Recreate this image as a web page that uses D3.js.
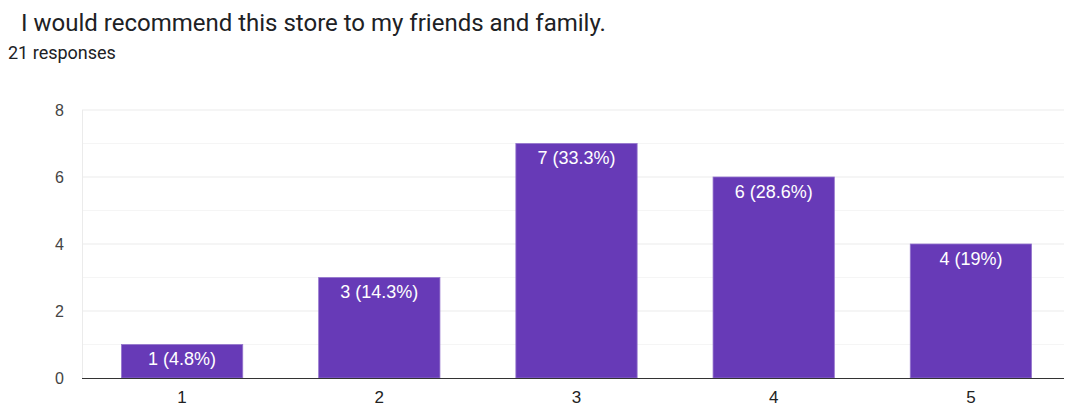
<!DOCTYPE html>
<html><head><meta charset="utf-8">
<script src="https://cdn.jsdelivr.net/npm/d3@7"></script>
<style>body{margin:0;background:#fff;font-family:Roboto,Arial,sans-serif}</style>
</head><body><svg id="c" width="1071" height="408"></svg>
<script>
const categories = ["1","2","3","4","5"];
const counts = [1,3,7,6,4];
const labels = ["1 (4.8%)","3 (14.3%)","7 (33.3%)","6 (28.6%)","4 (19%)"];
const yTicks = [0,2,4,6,8];
const title = "I would recommend this store to my friends and family.";
const subtitle = "21 responses";

const chartFont = "'Liberation Sans',Arial,sans-serif";
const svg = d3.select("#c");
const x = d3.scaleBand().domain(categories).range([84,1069]).paddingInner(0.385).paddingOuter(0.19);
const y = d3.scaleLinear().domain([0,8]).range([378,110]);

svg.append("text").attr("x",21).attr("y",31).attr("font-size",24).attr("fill","#202124").text(title);
svg.append("text").attr("x",8).attr("y",59).attr("font-size",18).attr("fill","#202124").text(subtitle);

// grid
const g = svg.append("g");
d3.range(1,9).forEach(v=>{
  g.append("line").attr("x1",82).attr("x2",1064).attr("y1",y(v)).attr("y2",y(v))
   .attr("stroke", v%2===0 ? "#ebebeb" : "#f5f5f5").attr("stroke-width",1);
});
g.append("line").attr("x1",82.5).attr("x2",82.5).attr("y1",y(8)).attr("y2",y(0)).attr("stroke","#ebebeb");

// y axis labels
const yAxis = d3.axisLeft(y).tickValues(yTicks).tickSize(0).tickPadding(0).tickFormat(d3.format("d"));
const ya = svg.append("g").attr("transform","translate(64,0)").call(yAxis);
ya.select(".domain").remove();
ya.selectAll("text").attr("font-size",16).attr("fill","#444").attr("font-family",chartFont);

// bars
svg.selectAll("rect.bar").data(counts).join("rect").attr("class","bar")
  .attr("x",(d,i)=>x(categories[i])).attr("width",x.bandwidth())
  .attr("y",d=>y(d)).attr("height",d=>y(0)-y(d))
  .attr("fill","#673ab7").attr("stroke","#9575cd").attr("stroke-width",0.8);

svg.selectAll("text.lbl").data(counts).join("text").attr("class","lbl")
  .attr("x",(d,i)=>x(categories[i])+x.bandwidth()/2).attr("y",d=>y(d)+20.5)
  .attr("text-anchor","middle").attr("font-size",18).attr("fill","#fff").attr("font-family",chartFont)
  .text((d,i)=>labels[i]);

// baseline
svg.append("line").attr("x1",82).attr("x2",1064).attr("y1",y(0)+0.5).attr("y2",y(0)+0.5).attr("stroke","#333").attr("stroke-width",1.2);

// x axis
const xAxis = d3.axisBottom(x).tickSize(0).tickPadding(0);
const xa = svg.append("g").attr("transform",`translate(0,${y(0)+13})`).call(xAxis);
xa.select(".domain").remove();
xa.selectAll("text").attr("font-size",17).attr("fill","#222").attr("font-family",chartFont);
</script></body></html>
